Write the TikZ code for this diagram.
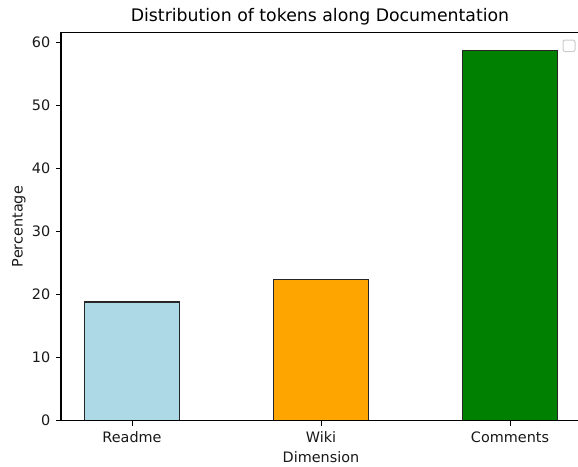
\documentclass[tikz,border=0pt]{standalone}
\usepackage{fontspec}
\setmainfont{DejaVu Sans}
\usepackage{xcolor}
\usepackage{tikz}

\definecolor{barblue}{RGB}{173,216,230}
\definecolor{barorange}{RGB}{255,165,0}
\definecolor{bargreen}{RGB}{0,128,0}
\definecolor{legendgray}{RGB}{204,204,204}

\tikzset{
  bar/.style={draw=black!85, line width=1.2pt},
  spine/.style={line width=1.1pt, black},
  ticklabel/.style={inner sep=0pt, font=\fontsize{14.4}{17}\selectfont, text=black!90},
  axislabel/.style={inner sep=0pt, font=\fontsize{14.4}{17}\selectfont, text=black!90},
}

\begin{document}
\begin{tikzpicture}[x=1pt, y=-1pt]
    \useasboundingbox[fill=white] (0,0) rectangle (578,466);

    % bars: position / value / colour / name
    \foreach \xc/\val/\col/\name in {132/18.8/barblue/Readme, 321/22.4/barorange/Wiki, 510/58.7/bargreen/Comments} {
      \pgfmathsetmacro{\ytop}{420.5-\val*6.308}
      \draw[bar, fill=\col] (\xc-47.25,420.5) rectangle (\xc+47.25,\ytop);
      \draw[spine, line width=1pt] (\xc,420.5) -- (\xc,425.5);
      \node[ticklabel, anchor=base] (xlab-\name) at (\xc,442.7) {\name};
    }

    % y ticks
    \foreach \v in {0,10,...,60} {
      \pgfmathsetmacro{\yv}{420.5-\v*6.308}
      \draw[spine, line width=1pt] (61,\yv) -- (56,\yv);
      \node[ticklabel, anchor=base east] (ylab-\v) at (50.5,\yv+5.2) {\v};
    }

    % axes frame
    \draw[spine] (581,32.7) -- (61,32.7) -- (61,420.5) -- (581,420.5);

    % empty legend
    \draw[legendgray, line width=1pt, rounded corners=2pt, fill=white] (563,40) rectangle (575,51.5);

    % labels
    \node[inner sep=0pt, anchor=base, font=\fontsize{17.3}{20}\selectfont] (title) at (320,21)
      {Distribution of tokens along Documentation};
    \node[axislabel, anchor=base] (xaxis) at (321,462) {Dimension};
    \node[axislabel, anchor=base, rotate=90] (yaxis) at (22.7,226.6) {Percentage};
  \end{tikzpicture}
\end{document}
